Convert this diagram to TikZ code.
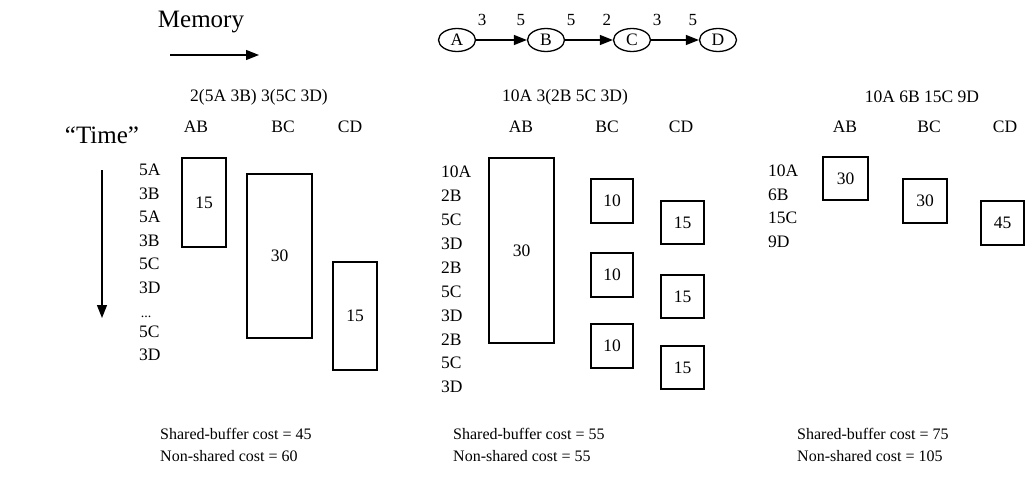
\documentclass[tikz,border=0pt]{standalone}
\usepackage{fontspec}
\setmainfont{Liberation Serif}
\usetikzlibrary{arrows.meta, positioning, shapes.geometric}

\begin{document}
\begin{tikzpicture}[
    x=1pt, y=-1pt,
    txt/.style={font=\fontsize{17.5}{20}\selectfont, inner sep=0pt},
    big/.style={font=\fontsize{25}{28}\selectfont, inner sep=0pt},
    cost/.style={font=\fontsize{16}{22}\selectfont, inner sep=0pt, align=left, anchor=north west},
    buf/.style args={#1/#2}{draw, line width=1.3pt, minimum width=#1, minimum height=#2, inner sep=0pt, font=\fontsize{17.5}{20}\selectfont},
    actor/.style={ellipse, draw, line width=1.3pt, minimum width=37pt, minimum height=23pt, inner sep=0pt, font=\fontsize{17.5}{20}\selectfont},
    arc/.style={-{Triangle[length=13pt,width=10pt]}, line width=1.3pt},
    rate/.style={font=\fontsize{17}{18}\selectfont, inner sep=1pt}
]
\useasboundingbox (0,0) rectangle (1028,477);

% axes
\node[big] (mem) at (201,22) {Memory};
\coordinate (memL) at (170,55);
\coordinate (memR) at (259,55);
\draw[arc] (memL) -- (memR);
\node[big] (time) at (102,135) {``Time''};
\coordinate (timeT) at (102,170);
\coordinate (timeB) at (102,318);
\draw[arc] (timeT) -- (timeB);

% graph
\node[actor] (A) at (457,40) {A};
\node[actor] (B) at (546,40) {B};
\node[actor] (C) at (632,40) {C};
\node[actor] (D) at (718,40) {D};
\draw[arc] (A) -- node[rate, at start, anchor=south west, yshift=13pt] {3} node[rate, at end, anchor=south east, yshift=13pt] {5} (B);
\draw[arc] (B) -- node[rate, at start, anchor=south west, yshift=13pt] {5} node[rate, at end, anchor=south east, yshift=13pt] {2} (C);
\draw[arc] (C) -- node[rate, at start, anchor=south west, yshift=13pt] {3} node[rate, at end, anchor=south east, yshift=13pt] {5} (D);

% schedule 1
\node[txt] (s1) at (259,97) {2(5A 3B) 3(5C 3D)};
\node[txt] (s1ab) at (196,127) {AB};
\node[txt] (s1bc) at (283,127) {BC};
\node[txt] (s1cd) at (350,127) {CD};
\foreach \t [count=\i] in {5A,3B,5A,3B,5C,3D}
  \node[txt, anchor=west] (s1f\i) at (139,{170+23.5*(\i-1)}) {\t};
\node[txt, anchor=west] (s1f7) at (139,332) {5C};
\node[txt, anchor=west] (s1f8) at (139,355) {3D};
\node[font=\fontsize{14}{14}\selectfont, inner sep=0pt] (s1dots) at (146,317) {...};
\node[buf={44pt/89pt}] (s1b1) at (204,202.5) {15};
\node[buf={65pt/164pt}] (s1b2) at (279.5,256) {30};
\node[buf={44pt/108pt}] (s1b3) at (355,316) {15};
\node[cost] (s1c) at (160,428) {Shared-buffer cost = 45\\Non-shared cost = 60};

% schedule 2
\node[txt] (s2) at (565,97) {10A 3(2B 5C 3D)};
\node[txt] (s2ab) at (521,127) {AB};
\node[txt] (s2bc) at (607,127) {BC};
\node[txt] (s2cd) at (681,127) {CD};
\foreach \t [count=\i] in {10A,2B,5C,3D,2B,5C,3D,2B,5C,3D}
  \node[txt, anchor=west] (s2f\i) at (441,{172+23.9*(\i-1)}) {\t};
\node[buf={65pt/185pt}] (s2b1) at (521.5,250.5) {30};
\foreach \y [count=\i] in {201,275,346}
  \node[buf={42pt/44pt}] (s2bc\i) at (612,\y) {10};
\foreach \y [count=\i] in {222.5,296.5,367.5}
  \node[buf={43pt/43pt}] (s2cd\i) at (682.5,\y) {15};
\node[cost] (s2c) at (453,428) {Shared-buffer cost = 55\\Non-shared cost = 55};

% schedule 3
\node[txt] (s3) at (922,97) {10A 6B 15C 9D};
\node[txt] (s3ab) at (845,127) {AB};
\node[txt] (s3bc) at (929,127) {BC};
\node[txt] (s3cd) at (1005,127) {CD};
\foreach \t [count=\i] in {10A,6B,15C,9D}
  \node[txt, anchor=west] (s3f\i) at (768,{171+23.5*(\i-1)}) {\t};
\node[buf={45pt/43pt}] (s3b1) at (845.5,178.5) {30};
\node[buf={44pt/44pt}] (s3b2) at (925,201) {30};
\node[buf={43pt/44pt}] (s3b3) at (1002.5,223) {45};
\node[cost] (s3c) at (797,428) {Shared-buffer cost = 75\\Non-shared cost = 105};
\end{tikzpicture}
\end{document}
